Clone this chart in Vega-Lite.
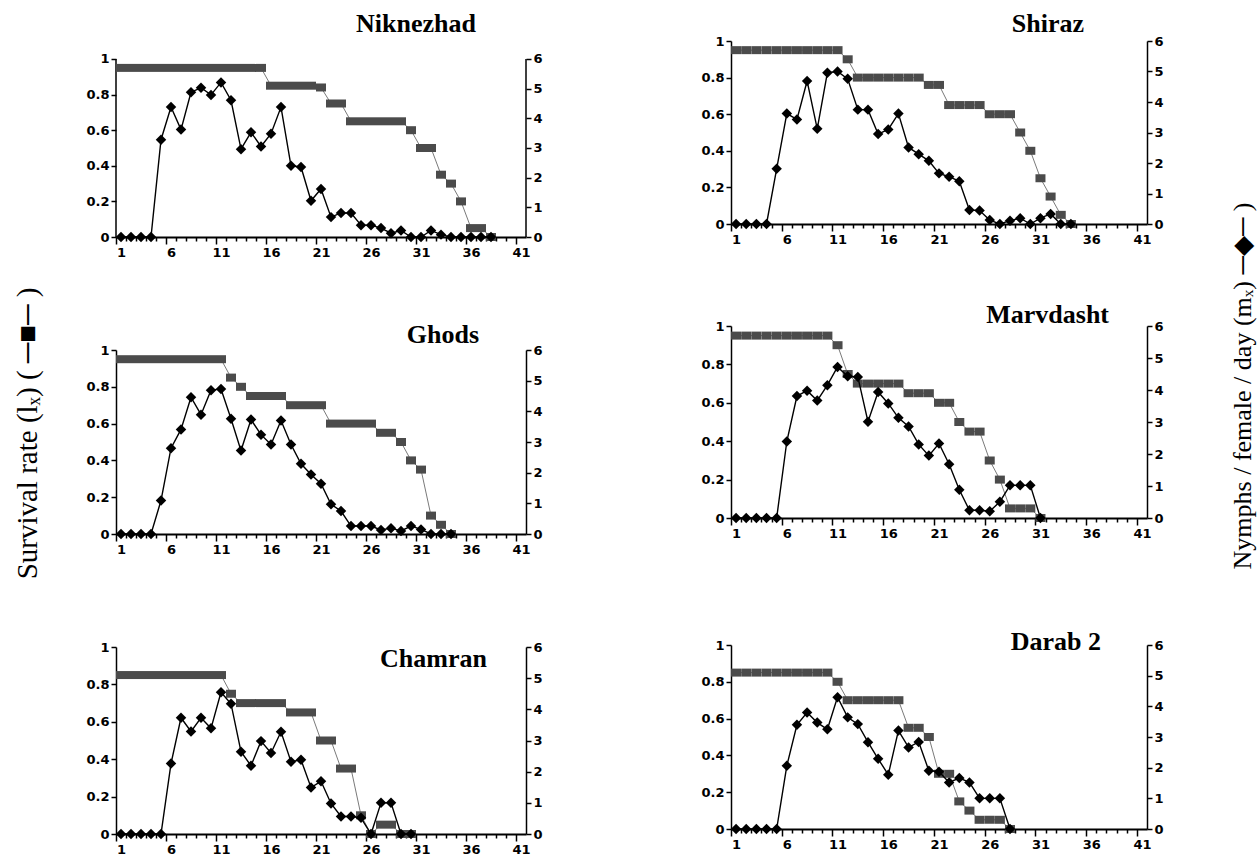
{
"$schema": "https://vega.github.io/schema/vega-lite/v6.json",
"background": "white",
"padding": {"left": 13, "top": 11, "right": 0, "bottom": 0},
"data": {"values": [
{"s":"Niknezhad","d":1,"lx":0.95,"mx":0},{"s":"Niknezhad","d":2,"lx":0.95,"mx":0},{"s":"Niknezhad","d":3,"lx":0.95,"mx":0},{"s":"Niknezhad","d":4,"lx":0.95,"mx":0},{"s":"Niknezhad","d":5,"lx":0.95,"mx":3.28},{"s":"Niknezhad","d":6,"lx":0.95,"mx":4.38},{"s":"Niknezhad","d":7,"lx":0.95,"mx":3.62},{"s":"Niknezhad","d":8,"lx":0.95,"mx":4.88},{"s":"Niknezhad","d":9,"lx":0.95,"mx":5.03},{"s":"Niknezhad","d":10,"lx":0.95,"mx":4.79},{"s":"Niknezhad","d":11,"lx":0.95,"mx":5.21},{"s":"Niknezhad","d":12,"lx":0.95,"mx":4.61},{"s":"Niknezhad","d":13,"lx":0.95,"mx":2.96},{"s":"Niknezhad","d":14,"lx":0.95,"mx":3.53},{"s":"Niknezhad","d":15,"lx":0.95,"mx":3.05},{"s":"Niknezhad","d":16,"lx":0.85,"mx":3.48},{"s":"Niknezhad","d":17,"lx":0.85,"mx":4.38},{"s":"Niknezhad","d":18,"lx":0.85,"mx":2.4},{"s":"Niknezhad","d":19,"lx":0.85,"mx":2.36},{"s":"Niknezhad","d":20,"lx":0.85,"mx":1.22},{"s":"Niknezhad","d":21,"lx":0.84,"mx":1.62},{"s":"Niknezhad","d":22,"lx":0.75,"mx":0.67},{"s":"Niknezhad","d":23,"lx":0.75,"mx":0.81},{"s":"Niknezhad","d":24,"lx":0.65,"mx":0.81},{"s":"Niknezhad","d":25,"lx":0.65,"mx":0.4},{"s":"Niknezhad","d":26,"lx":0.65,"mx":0.4},{"s":"Niknezhad","d":27,"lx":0.65,"mx":0.3},{"s":"Niknezhad","d":28,"lx":0.65,"mx":0.13},{"s":"Niknezhad","d":29,"lx":0.65,"mx":0.22},{"s":"Niknezhad","d":30,"lx":0.6,"mx":0},{"s":"Niknezhad","d":31,"lx":0.5,"mx":0},{"s":"Niknezhad","d":32,"lx":0.5,"mx":0.22},{"s":"Niknezhad","d":33,"lx":0.35,"mx":0.08},{"s":"Niknezhad","d":34,"lx":0.3,"mx":0},{"s":"Niknezhad","d":35,"lx":0.2,"mx":0},{"s":"Niknezhad","d":36,"lx":0.05,"mx":0},{"s":"Niknezhad","d":37,"lx":0.05,"mx":0},{"s":"Niknezhad","d":38,"lx":0,"mx":0},
{"s":"Shiraz","d":1,"lx":0.95,"mx":0},{"s":"Shiraz","d":2,"lx":0.95,"mx":0},{"s":"Shiraz","d":3,"lx":0.95,"mx":0},{"s":"Shiraz","d":4,"lx":0.95,"mx":0},{"s":"Shiraz","d":5,"lx":0.95,"mx":1.81},{"s":"Shiraz","d":6,"lx":0.95,"mx":3.62},{"s":"Shiraz","d":7,"lx":0.95,"mx":3.43},{"s":"Shiraz","d":8,"lx":0.95,"mx":4.69},{"s":"Shiraz","d":9,"lx":0.95,"mx":3.12},{"s":"Shiraz","d":10,"lx":0.95,"mx":4.96},{"s":"Shiraz","d":11,"lx":0.95,"mx":5.0},{"s":"Shiraz","d":12,"lx":0.9,"mx":4.76},{"s":"Shiraz","d":13,"lx":0.8,"mx":3.75},{"s":"Shiraz","d":14,"lx":0.8,"mx":3.75},{"s":"Shiraz","d":15,"lx":0.8,"mx":2.95},{"s":"Shiraz","d":16,"lx":0.8,"mx":3.1},{"s":"Shiraz","d":17,"lx":0.8,"mx":3.62},{"s":"Shiraz","d":18,"lx":0.8,"mx":2.51},{"s":"Shiraz","d":19,"lx":0.8,"mx":2.29},{"s":"Shiraz","d":20,"lx":0.76,"mx":2.07},{"s":"Shiraz","d":21,"lx":0.76,"mx":1.66},{"s":"Shiraz","d":22,"lx":0.65,"mx":1.55},{"s":"Shiraz","d":23,"lx":0.65,"mx":1.4},{"s":"Shiraz","d":24,"lx":0.65,"mx":0.46},{"s":"Shiraz","d":25,"lx":0.65,"mx":0.44},{"s":"Shiraz","d":26,"lx":0.6,"mx":0.13},{"s":"Shiraz","d":27,"lx":0.6,"mx":0},{"s":"Shiraz","d":28,"lx":0.6,"mx":0.11},{"s":"Shiraz","d":29,"lx":0.5,"mx":0.19},{"s":"Shiraz","d":30,"lx":0.4,"mx":0},{"s":"Shiraz","d":31,"lx":0.25,"mx":0.19},{"s":"Shiraz","d":32,"lx":0.15,"mx":0.33},{"s":"Shiraz","d":33,"lx":0.05,"mx":0},{"s":"Shiraz","d":34,"lx":0,"mx":0},
{"s":"Ghods","d":1,"lx":0.95,"mx":0},{"s":"Ghods","d":2,"lx":0.95,"mx":0},{"s":"Ghods","d":3,"lx":0.95,"mx":0},{"s":"Ghods","d":4,"lx":0.95,"mx":0},{"s":"Ghods","d":5,"lx":0.95,"mx":1.09},{"s":"Ghods","d":6,"lx":0.95,"mx":2.8},{"s":"Ghods","d":7,"lx":0.95,"mx":3.41},{"s":"Ghods","d":8,"lx":0.95,"mx":4.46},{"s":"Ghods","d":9,"lx":0.95,"mx":3.89},{"s":"Ghods","d":10,"lx":0.95,"mx":4.69},{"s":"Ghods","d":11,"lx":0.95,"mx":4.73},{"s":"Ghods","d":12,"lx":0.85,"mx":3.76},{"s":"Ghods","d":13,"lx":0.8,"mx":2.72},{"s":"Ghods","d":14,"lx":0.75,"mx":3.73},{"s":"Ghods","d":15,"lx":0.75,"mx":3.24},{"s":"Ghods","d":16,"lx":0.75,"mx":2.92},{"s":"Ghods","d":17,"lx":0.75,"mx":3.7},{"s":"Ghods","d":18,"lx":0.7,"mx":2.92},{"s":"Ghods","d":19,"lx":0.7,"mx":2.29},{"s":"Ghods","d":20,"lx":0.7,"mx":1.94},{"s":"Ghods","d":21,"lx":0.7,"mx":1.64},{"s":"Ghods","d":22,"lx":0.6,"mx":0.97},{"s":"Ghods","d":23,"lx":0.6,"mx":0.75},{"s":"Ghods","d":24,"lx":0.6,"mx":0.26},{"s":"Ghods","d":25,"lx":0.6,"mx":0.26},{"s":"Ghods","d":26,"lx":0.6,"mx":0.26},{"s":"Ghods","d":27,"lx":0.55,"mx":0.13},{"s":"Ghods","d":28,"lx":0.55,"mx":0.19},{"s":"Ghods","d":29,"lx":0.5,"mx":0.1},{"s":"Ghods","d":30,"lx":0.4,"mx":0.26},{"s":"Ghods","d":31,"lx":0.35,"mx":0.15},{"s":"Ghods","d":32,"lx":0.1,"mx":0},{"s":"Ghods","d":33,"lx":0.05,"mx":0},{"s":"Ghods","d":34,"lx":0,"mx":0},
{"s":"Marvdasht","d":1,"lx":0.95,"mx":0},{"s":"Marvdasht","d":2,"lx":0.95,"mx":0},{"s":"Marvdasht","d":3,"lx":0.95,"mx":0},{"s":"Marvdasht","d":4,"lx":0.95,"mx":0},{"s":"Marvdasht","d":5,"lx":0.95,"mx":0},{"s":"Marvdasht","d":6,"lx":0.95,"mx":2.39},{"s":"Marvdasht","d":7,"lx":0.95,"mx":3.81},{"s":"Marvdasht","d":8,"lx":0.95,"mx":3.98},{"s":"Marvdasht","d":9,"lx":0.95,"mx":3.67},{"s":"Marvdasht","d":10,"lx":0.95,"mx":4.15},{"s":"Marvdasht","d":11,"lx":0.9,"mx":4.72},{"s":"Marvdasht","d":12,"lx":0.75,"mx":4.43},{"s":"Marvdasht","d":13,"lx":0.7,"mx":4.41},{"s":"Marvdasht","d":14,"lx":0.7,"mx":3.01},{"s":"Marvdasht","d":15,"lx":0.7,"mx":3.94},{"s":"Marvdasht","d":16,"lx":0.7,"mx":3.58},{"s":"Marvdasht","d":17,"lx":0.7,"mx":3.13},{"s":"Marvdasht","d":18,"lx":0.65,"mx":2.86},{"s":"Marvdasht","d":19,"lx":0.65,"mx":2.3},{"s":"Marvdasht","d":20,"lx":0.65,"mx":1.95},{"s":"Marvdasht","d":21,"lx":0.6,"mx":2.33},{"s":"Marvdasht","d":22,"lx":0.6,"mx":1.68},{"s":"Marvdasht","d":23,"lx":0.5,"mx":0.88},{"s":"Marvdasht","d":24,"lx":0.45,"mx":0.24},{"s":"Marvdasht","d":25,"lx":0.45,"mx":0.24},{"s":"Marvdasht","d":26,"lx":0.3,"mx":0.21},{"s":"Marvdasht","d":27,"lx":0.2,"mx":0.51},{"s":"Marvdasht","d":28,"lx":0.05,"mx":1.02},{"s":"Marvdasht","d":29,"lx":0.05,"mx":1.02},{"s":"Marvdasht","d":30,"lx":0.05,"mx":1.02},{"s":"Marvdasht","d":31,"lx":0,"mx":0},
{"s":"Chamran","d":1,"lx":0.85,"mx":0},{"s":"Chamran","d":2,"lx":0.85,"mx":0},{"s":"Chamran","d":3,"lx":0.85,"mx":0},{"s":"Chamran","d":4,"lx":0.85,"mx":0},{"s":"Chamran","d":5,"lx":0.85,"mx":0},{"s":"Chamran","d":6,"lx":0.85,"mx":2.26},{"s":"Chamran","d":7,"lx":0.85,"mx":3.73},{"s":"Chamran","d":8,"lx":0.85,"mx":3.29},{"s":"Chamran","d":9,"lx":0.85,"mx":3.73},{"s":"Chamran","d":10,"lx":0.85,"mx":3.39},{"s":"Chamran","d":11,"lx":0.85,"mx":4.55},{"s":"Chamran","d":12,"lx":0.75,"mx":4.18},{"s":"Chamran","d":13,"lx":0.7,"mx":2.64},{"s":"Chamran","d":14,"lx":0.7,"mx":2.19},{"s":"Chamran","d":15,"lx":0.7,"mx":2.98},{"s":"Chamran","d":16,"lx":0.7,"mx":2.6},{"s":"Chamran","d":17,"lx":0.7,"mx":3.28},{"s":"Chamran","d":18,"lx":0.65,"mx":2.32},{"s":"Chamran","d":19,"lx":0.65,"mx":2.38},{"s":"Chamran","d":20,"lx":0.65,"mx":1.49},{"s":"Chamran","d":21,"lx":0.5,"mx":1.69},{"s":"Chamran","d":22,"lx":0.5,"mx":0.98},{"s":"Chamran","d":23,"lx":0.35,"mx":0.56},{"s":"Chamran","d":24,"lx":0.35,"mx":0.56},{"s":"Chamran","d":25,"lx":0.1,"mx":0.52},{"s":"Chamran","d":26,"lx":0,"mx":0},{"s":"Chamran","d":27,"lx":0.05,"mx":1.0},{"s":"Chamran","d":28,"lx":0.05,"mx":1.0},{"s":"Chamran","d":29,"lx":0,"mx":0},{"s":"Chamran","d":30,"lx":0,"mx":0},
{"s":"Darab 2","d":1,"lx":0.85,"mx":0},{"s":"Darab 2","d":2,"lx":0.85,"mx":0},{"s":"Darab 2","d":3,"lx":0.85,"mx":0},{"s":"Darab 2","d":4,"lx":0.85,"mx":0},{"s":"Darab 2","d":5,"lx":0.85,"mx":0},{"s":"Darab 2","d":6,"lx":0.85,"mx":2.06},{"s":"Darab 2","d":7,"lx":0.85,"mx":3.4},{"s":"Darab 2","d":8,"lx":0.85,"mx":3.8},{"s":"Darab 2","d":9,"lx":0.85,"mx":3.47},{"s":"Darab 2","d":10,"lx":0.85,"mx":3.25},{"s":"Darab 2","d":11,"lx":0.8,"mx":4.3},{"s":"Darab 2","d":12,"lx":0.7,"mx":3.64},{"s":"Darab 2","d":13,"lx":0.7,"mx":3.42},{"s":"Darab 2","d":14,"lx":0.7,"mx":2.83},{"s":"Darab 2","d":15,"lx":0.7,"mx":2.29},{"s":"Darab 2","d":16,"lx":0.7,"mx":1.77},{"s":"Darab 2","d":17,"lx":0.7,"mx":3.21},{"s":"Darab 2","d":18,"lx":0.55,"mx":2.66},{"s":"Darab 2","d":19,"lx":0.55,"mx":2.84},{"s":"Darab 2","d":20,"lx":0.5,"mx":1.9},{"s":"Darab 2","d":21,"lx":0.3,"mx":1.87},{"s":"Darab 2","d":22,"lx":0.3,"mx":1.52},{"s":"Darab 2","d":23,"lx":0.15,"mx":1.66},{"s":"Darab 2","d":24,"lx":0.1,"mx":1.52},{"s":"Darab 2","d":25,"lx":0.05,"mx":1.0},{"s":"Darab 2","d":26,"lx":0.05,"mx":1.0},{"s":"Darab 2","d":27,"lx":0.05,"mx":1.0},{"s":"Darab 2","d":28,"lx":0,"mx":0}
]},
"hconcat": [
{"title": {"text": "Survival rate (lₓ) ( ─■─ )", "orient": "left", "anchor": "middle", "baseline": "middle", "offset": 29, "font": "Liberation Serif", "fontWeight": "normal", "fontSize": 29},
 "vconcat": [
{"width": 410, "height": 196,
 "title": {"text": "Niknezhad", "anchor": "end", "frame": "group", "offset": 0, "dx": -50, "dy": 17, "baseline": "alphabetic"},
 "transform": [{"filter": "datum.s == 'Niknezhad'"}],
 "encoding": {"x": {"field": "d", "type": "quantitative", "scale": {"domain": [0.5, 41.5], "nice": false, "zero": false}, "axis": {"title": null, "values": [1,2,3,4,5,6,7,8,9,10,11,12,13,14,15,16,17,18,19,20,21,22,23,24,25,26,27,28,29,30,31,32,33,34,35,36,37,38,39,40,41], "format": "d", "labelExpr": "(datum.value - 1) % 5 === 0 ? datum.label : ''", "tickOffset": -5, "labelOffset": 5, "labelFlush": false, "labelOverlap": false, "domainWidth": 2, "tickSize": {"condition": {"test": "(datum.value - 1) % 5 === 0", "value": 7}, "value": 4}}}},
 "layer": [
  {"encoding": {"y": {"field": "lx", "type": "quantitative", "scale": {"domain": [0, 1.1011], "nice": false}, "axis": {"orient": "left", "title": null, "domain": false, "values": [0,0.2,0.4,0.6,0.8,1], "format": "~g", "tickSize": 5}}},
   "layer": [
    {"transform": [{"filter": "datum.d == 1"}], "mark": {"type": "rule", "color": "black", "strokeWidth": 1.5}, "encoding": {"x": {"datum": 0.5}, "y": {"datum": 0}, "y2": {"datum": 1}}},
    {"transform": [{"filter": "datum.d == 1"}], "mark": {"type": "rule", "color": "black", "strokeWidth": 1.5}, "encoding": {"x": {"datum": 41.5}, "y": {"datum": 0}, "y2": {"datum": 1}}},
    {"mark": {"type": "line", "color": "#7a7a7a", "strokeWidth": 1}},
    {"mark": {"type": "tick", "orient": "horizontal", "color": "#4b4b4b", "size": 10, "thickness": 8, "opacity": 1}}
   ]},
  {"encoding": {"y": {"field": "mx", "type": "quantitative", "scale": {"domain": [0, 6.6067], "nice": false}, "axis": {"orient": "right", "title": null, "domain": false, "values": [0,1,2,3,4,5,6], "format": "d", "tickSize": 5}}},
   "layer": [
    {"mark": {"type": "line", "color": "black", "strokeWidth": 1.4}},
    {"mark": {"type": "point", "shape": "diamond", "filled": true, "color": "black", "size": 110, "opacity": 1}}
   ]}
 ],
 "resolve": {"scale": {"y": "independent"}}
},
{"width": 410, "height": 184,
 "title": {"text": "Ghods", "anchor": "end", "frame": "group", "offset": 0, "dx": -47, "dy": 25, "baseline": "alphabetic"},
 "transform": [{"filter": "datum.s == 'Ghods'"}],
 "encoding": {"x": {"field": "d", "type": "quantitative", "scale": {"domain": [0.5, 41.5], "nice": false, "zero": false}, "axis": {"title": null, "values": [1,2,3,4,5,6,7,8,9,10,11,12,13,14,15,16,17,18,19,20,21,22,23,24,25,26,27,28,29,30,31,32,33,34,35,36,37,38,39,40,41], "format": "d", "labelExpr": "(datum.value - 1) % 5 === 0 ? datum.label : ''", "tickOffset": -5, "labelOffset": 5, "labelFlush": false, "labelOverlap": false, "domainWidth": 2, "tickSize": {"condition": {"test": "(datum.value - 1) % 5 === 0", "value": 7}, "value": 4}}}},
 "layer": [
  {"encoding": {"y": {"field": "lx", "type": "quantitative", "scale": {"domain": [0, 1], "nice": false}, "axis": {"orient": "left", "title": null, "values": [0,0.2,0.4,0.6,0.8,1], "format": "~g", "tickSize": 5}}},
   "layer": [
    {"mark": {"type": "line", "color": "#7a7a7a", "strokeWidth": 1}},
    {"mark": {"type": "tick", "orient": "horizontal", "color": "#4b4b4b", "size": 10, "thickness": 8, "opacity": 1}}
   ]},
  {"encoding": {"y": {"field": "mx", "type": "quantitative", "scale": {"domain": [0, 6], "nice": false}, "axis": {"orient": "right", "title": null, "values": [0,1,2,3,4,5,6], "format": "d", "tickSize": 5}}},
   "layer": [
    {"mark": {"type": "line", "color": "black", "strokeWidth": 1.4}},
    {"mark": {"type": "point", "shape": "diamond", "filled": true, "color": "black", "size": 110, "opacity": 1}}
   ]}
 ],
 "resolve": {"scale": {"y": "independent"}}
},
{"width": 410, "height": 187,
 "title": {"text": "Chamran", "anchor": "end", "frame": "group", "offset": 0, "dx": -39, "dy": 52, "baseline": "alphabetic"},
 "transform": [{"filter": "datum.s == 'Chamran'"}],
 "encoding": {"x": {"field": "d", "type": "quantitative", "scale": {"domain": [0.5, 41.5], "nice": false, "zero": false}, "axis": {"title": null, "values": [1,2,3,4,5,6,7,8,9,10,11,12,13,14,15,16,17,18,19,20,21,22,23,24,25,26,27,28,29,30,31,32,33,34,35,36,37,38,39,40,41], "format": "d", "labelExpr": "(datum.value - 1) % 5 === 0 ? datum.label : ''", "tickOffset": -5, "labelOffset": 5, "labelFlush": false, "labelOverlap": false, "domainWidth": 2, "tickSize": {"condition": {"test": "(datum.value - 1) % 5 === 0", "value": 7}, "value": 4}}}},
 "layer": [
  {"encoding": {"y": {"field": "lx", "type": "quantitative", "scale": {"domain": [0, 1], "nice": false}, "axis": {"orient": "left", "title": null, "values": [0,0.2,0.4,0.6,0.8,1], "format": "~g", "tickSize": 5}}},
   "layer": [
    {"mark": {"type": "line", "color": "#7a7a7a", "strokeWidth": 1}},
    {"mark": {"type": "tick", "orient": "horizontal", "color": "#4b4b4b", "size": 10, "thickness": 8, "opacity": 1}}
   ]},
  {"encoding": {"y": {"field": "mx", "type": "quantitative", "scale": {"domain": [0, 6], "nice": false}, "axis": {"orient": "right", "title": null, "values": [0,1,2,3,4,5,6], "format": "d", "tickSize": 5}}},
   "layer": [
    {"mark": {"type": "line", "color": "black", "strokeWidth": 1.4}},
    {"mark": {"type": "point", "shape": "diamond", "filled": true, "color": "black", "size": 110, "opacity": 1}}
   ]}
 ],
 "resolve": {"scale": {"y": "independent"}}
}
], "spacing": 113, "bounds": "flush"},
{"title": {"text": "Nymphs / female / day (mₓ) ─◆─ )", "orient": "right", "anchor": "middle", "angle": 270, "baseline": "middle", "dx": 45, "offset": 54, "font": "Liberation Serif", "fontWeight": "normal", "fontSize": 26},
 "vconcat": [
{"vconcat": [
{"width": 416, "height": 183,
 "title": {"text": "Shiraz", "anchor": "end", "frame": "group", "offset": 0, "dx": -63, "dy": 23, "baseline": "alphabetic"},
 "transform": [{"filter": "datum.s == 'Shiraz'"}],
 "encoding": {"x": {"field": "d", "type": "quantitative", "scale": {"domain": [0.5, 41.5], "nice": false, "zero": false}, "axis": {"title": null, "values": [1,2,3,4,5,6,7,8,9,10,11,12,13,14,15,16,17,18,19,20,21,22,23,24,25,26,27,28,29,30,31,32,33,34,35,36,37,38,39,40,41], "format": "d", "labelExpr": "(datum.value - 1) % 5 === 0 ? datum.label : ''", "tickOffset": -5.07, "labelOffset": 5.07, "labelFlush": false, "labelOverlap": false, "domainWidth": 2, "tickSize": {"condition": {"test": "(datum.value - 1) % 5 === 0", "value": 7}, "value": 4}}}},
 "layer": [
  {"encoding": {"y": {"field": "lx", "type": "quantitative", "scale": {"domain": [0, 1], "nice": false}, "axis": {"orient": "left", "title": null, "values": [0,0.2,0.4,0.6,0.8,1], "format": "~g", "tickSize": 5}}},
   "layer": [
    {"mark": {"type": "line", "color": "#7a7a7a", "strokeWidth": 1}},
    {"mark": {"type": "tick", "orient": "horizontal", "color": "#4b4b4b", "size": 10, "thickness": 8, "opacity": 1}}
   ]},
  {"encoding": {"y": {"field": "mx", "type": "quantitative", "scale": {"domain": [0, 6], "nice": false}, "axis": {"orient": "right", "title": null, "values": [0,1,2,3,4,5,6], "format": "d", "tickSize": 5}}},
   "layer": [
    {"mark": {"type": "line", "color": "black", "strokeWidth": 1.4}},
    {"mark": {"type": "point", "shape": "diamond", "filled": true, "color": "black", "size": 110, "opacity": 1}}
   ]}
 ],
 "resolve": {"scale": {"y": "independent"}}
},
{"width": 416, "height": 192,
 "title": {"text": "Marvdasht", "anchor": "end", "frame": "group", "offset": 0, "dx": -38, "dy": 29, "baseline": "alphabetic"},
 "transform": [{"filter": "datum.s == 'Marvdasht'"}],
 "encoding": {"x": {"field": "d", "type": "quantitative", "scale": {"domain": [0.5, 41.5], "nice": false, "zero": false}, "axis": {"title": null, "values": [1,2,3,4,5,6,7,8,9,10,11,12,13,14,15,16,17,18,19,20,21,22,23,24,25,26,27,28,29,30,31,32,33,34,35,36,37,38,39,40,41], "format": "d", "labelExpr": "(datum.value - 1) % 5 === 0 ? datum.label : ''", "tickOffset": -5.07, "labelOffset": 5.07, "labelFlush": false, "labelOverlap": false, "domainWidth": 2, "tickSize": {"condition": {"test": "(datum.value - 1) % 5 === 0", "value": 7}, "value": 4}}}},
 "layer": [
  {"encoding": {"y": {"field": "lx", "type": "quantitative", "scale": {"domain": [0, 1], "nice": false}, "axis": {"orient": "left", "title": null, "values": [0,0.2,0.4,0.6,0.8,1], "format": "~g", "tickSize": 5}}},
   "layer": [
    {"mark": {"type": "line", "color": "#7a7a7a", "strokeWidth": 1}},
    {"mark": {"type": "tick", "orient": "horizontal", "color": "#4b4b4b", "size": 10, "thickness": 8, "opacity": 1}}
   ]},
  {"encoding": {"y": {"field": "mx", "type": "quantitative", "scale": {"domain": [0, 6], "nice": false}, "axis": {"orient": "right", "title": null, "values": [0,1,2,3,4,5,6], "format": "d", "tickSize": 5}}},
   "layer": [
    {"mark": {"type": "line", "color": "black", "strokeWidth": 1.4}},
    {"mark": {"type": "point", "shape": "diamond", "filled": true, "color": "black", "size": 110, "opacity": 1}}
   ]}
 ],
 "resolve": {"scale": {"y": "independent"}}
}
], "spacing": 102, "bounds": "flush"},
{"width": 416, "height": 184,
 "title": {"text": "Darab 2", "anchor": "end", "frame": "group", "offset": 0, "dx": -46, "dy": 37, "baseline": "alphabetic"},
 "transform": [{"filter": "datum.s == 'Darab 2'"}],
 "encoding": {"x": {"field": "d", "type": "quantitative", "scale": {"domain": [0.5, 41.5], "nice": false, "zero": false}, "axis": {"title": null, "values": [1,2,3,4,5,6,7,8,9,10,11,12,13,14,15,16,17,18,19,20,21,22,23,24,25,26,27,28,29,30,31,32,33,34,35,36,37,38,39,40,41], "format": "d", "labelExpr": "(datum.value - 1) % 5 === 0 ? datum.label : ''", "tickOffset": -5.07, "labelOffset": 5.07, "labelFlush": false, "labelOverlap": false, "domainWidth": 2, "tickSize": {"condition": {"test": "(datum.value - 1) % 5 === 0", "value": 7}, "value": 4}}}},
 "layer": [
  {"encoding": {"y": {"field": "lx", "type": "quantitative", "scale": {"domain": [0, 1], "nice": false}, "axis": {"orient": "left", "title": null, "values": [0,0.2,0.4,0.6,0.8,1], "format": "~g", "tickSize": 5}}},
   "layer": [
    {"mark": {"type": "line", "color": "#7a7a7a", "strokeWidth": 1}},
    {"mark": {"type": "tick", "orient": "horizontal", "color": "#4b4b4b", "size": 10, "thickness": 8, "opacity": 1}}
   ]},
  {"encoding": {"y": {"field": "mx", "type": "quantitative", "scale": {"domain": [0, 6], "nice": false}, "axis": {"orient": "right", "title": null, "values": [0,1,2,3,4,5,6], "format": "d", "tickSize": 5}}},
   "layer": [
    {"mark": {"type": "line", "color": "black", "strokeWidth": 1.4}},
    {"mark": {"type": "point", "shape": "diamond", "filled": true, "color": "black", "size": 110, "opacity": 1}}
   ]}
 ],
 "resolve": {"scale": {"y": "independent"}}
}
], "spacing": 89}
],
"spacing": 157,
"config": {
 "view": {"stroke": null},
 "axis": {"domainColor": "black", "domainWidth": 1.5, "tickColor": "black", "tickWidth": 1.5, "labelColor": "black", "labelFont": "DejaVu Sans", "labelFontWeight": "bold", "labelFontSize": 13, "grid": false},
 "title": {"font": "Liberation Serif", "fontWeight": "bold", "fontSize": 26, "color": "black"}
}
}
